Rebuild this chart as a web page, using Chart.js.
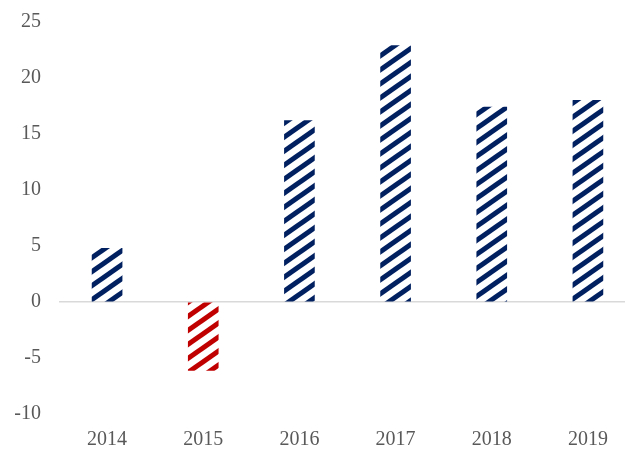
<!DOCTYPE html>
<html>
<head>
<meta charset="utf-8">
<script src="https://cdn.jsdelivr.net/npm/chart.js@4/dist/chart.umd.min.js"></script>
<style>
  html, body { margin: 0; padding: 0; background: #fff; overflow: hidden; }
</style>
</head>
<body>
<canvas id="grafico_bar" width="640" height="452"></canvas>
<script>
const anos = ['2014', '2015', '2016', '2017', '2018', '2019']
const valores = [4.8, -6.1, 16.2, 22.9, 17.4, 18.0]
const cores_barras = ['#002060', '#C00000', '#002060', '#002060', '#002060', '#002060']
const y_min = -10
const y_max = 25
const y_passo = 5

// hachura diagonal (tipo Excel "wide upward diagonal")
function hachura(cor) {
    const w = 20, h = 14
    const c = document.createElement('canvas')
    c.width = w
    c.height = h
    const g = c.getContext('2d')
    g.strokeStyle = cor
    g.lineWidth = 5
    for (let k = -1; k <= 1; k++) {
        g.beginPath()
        g.moveTo(-w, 2 * h + k * h)
        g.lineTo(2 * w, -h + k * h)
        g.stroke()
    }
    return g.createPattern(c, 'repeat')
}

const ctx = document.getElementById('grafico_bar')

Chart.defaults.font.family = '"Liberation Serif", "Times New Roman", serif'
Chart.defaults.font.size = 20
Chart.defaults.color = '#595959'

const data = {
    labels: anos,
    datasets: [{
        data: valores,
        backgroundColor: cores_barras.map(hachura),
        borderWidth: 0,
        barThickness: 30
    }]
}

const config = {
    type: 'bar',
    data,
    options: {
        responsive: false,
        animation: false,
        layout: { padding: { top: 22, right: 4, left: 0, bottom: 0 } },
        plugins: {
            legend: { display: false },
            tooltip: { enabled: false }
        },
        scales: {
            x: {
                grid: { display: false, drawTicks: false },
                border: { display: false },
                ticks: { padding: 14 },
                afterFit: s => { s.height = 38; s.paddingLeft = 0; s.paddingRight = 0 }
            },
            y: {
                min: y_min,
                max: y_max,
                ticks: { stepSize: y_passo, padding: 18 },
                grid: {
                    drawTicks: false,
                    lineWidth: 1.5,
                    color: c => c.tick && c.tick.value === 0 ? '#d9d9d9' : 'rgba(0,0,0,0)'
                },
                border: { display: false },
                afterFit: s => { s.width = 59; s.paddingTop = 0; s.paddingBottom = 0 }
            }
        }
    }
}

const graph = new Chart(ctx, config)
</script>
</body>
</html>
